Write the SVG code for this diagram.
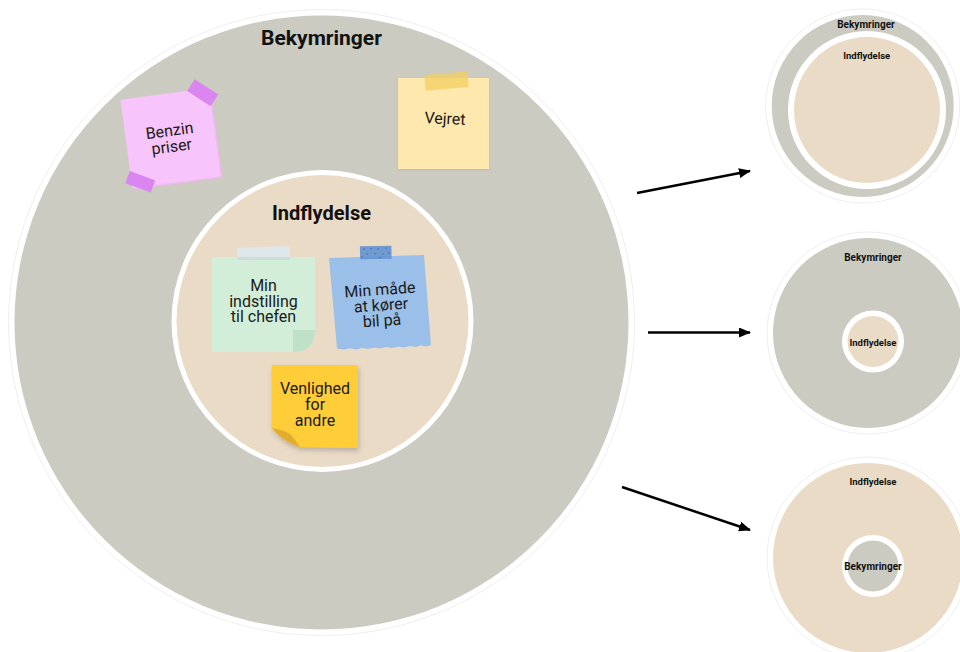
<svg xmlns="http://www.w3.org/2000/svg" width="960" height="652" viewBox="0 0 960 652">
  <defs>
    <style>
      .title { font-family: Roboto, "Liberation Sans", sans-serif; font-weight: 700; fill: #111; text-anchor: middle; }
      .note { font-family: Roboto, "Liberation Sans", sans-serif; font-size: 16px; fill: #1a1a1a; text-anchor: middle; }
      .grey { fill: #CBCBC1; }
      .tan { fill: #EADBC6; }
      .halo { fill: #ffffff; stroke: #efefef; stroke-width: 1; }
      .conn { stroke: #000; stroke-width: 2.5; fill: none; }
    </style>
    <marker id="arrow" markerUnits="userSpaceOnUse" markerWidth="12" markerHeight="10" refX="11" refY="5" orient="auto">
      <path d="M0,0 L12,5 L0,10 Z" fill="#000"/>
    </marker>
    <filter id="shadow" x="-20%" y="-20%" width="150%" height="150%">
      <feDropShadow dx="1" dy="3" stdDeviation="2.5" flood-color="#5a5a5a" flood-opacity="0.35"/>
    </filter>
    <filter id="softshadow" x="-20%" y="-20%" width="150%" height="150%">
      <feDropShadow dx="0" dy="1" stdDeviation="1" flood-color="#777" flood-opacity="0.2"/>
    </filter>
  </defs>

  <rect width="960" height="652" fill="#ffffff"/>

  <!-- Main diagram -->
  <g id="node-bekymringer">
    <circle class="halo" cx="321.5" cy="322.5" r="313"/>
    <circle class="grey" cx="321.5" cy="322.5" r="307"/>
    <text class="title" x="321.5" y="45" font-size="21">Bekymringer</text>
  </g>

  <g id="node-indflydelse">
    <circle fill="#ffffff" cx="322.5" cy="321" r="151"/>
    <circle class="tan" cx="322.5" cy="321" r="146"/>
    <text class="title" x="321.5" y="220" font-size="20">Indflydelse</text>
  </g>

  <g id="note-benzin" transform="translate(170.5,138) rotate(-7.7)">
    <rect x="-43" y="-43" width="89" height="89" fill="#F2B8F6"/>
    <rect x="-44.5" y="-44.5" width="89" height="89" fill="#F7C5FB"/>
    <text class="note" x="0" y="-2">Benzin<tspan x="0" dy="16">priser</tspan></text>
  </g>
  <rect x="-14" y="-7" width="28" height="14" fill="#D982F0" opacity="0.95" transform="translate(202.7,92.7) rotate(33)"/>
  <rect x="-13.5" y="-6.5" width="27" height="13" fill="#D982F0" opacity="0.95" transform="translate(140.3,181.7) rotate(20)"/>

  <g id="note-vejret">
    <rect x="398" y="78" width="91" height="91" fill="#FFE8AD" filter="url(#softshadow)"/>
    <rect x="-21.5" y="-8" width="43" height="16" fill="#F3CF62" opacity="0.75" transform="translate(446.5,81) rotate(-5)"/>
    <text class="note" x="445" y="124" transform="rotate(3 445 119)">Vejret</text>
  </g>

  <g id="note-chefen">
    <path d="M212,257 H315 V330 Q315,352 293,352 H212 Z" fill="#D2EED8"/>
    <path d="M293,330 H315 Q315,352 293,352 Z" fill="#BFE2C6"/>
    <rect x="-26.5" y="-6.5" width="53" height="13" fill="#DDE7EC" transform="translate(263.5,253.5) rotate(-2)"/>
    <rect x="237" y="257" width="53" height="3" fill="#C5DCCB" opacity="0.7"/>
    <text class="note" x="263.5" y="291">Min<tspan x="263.5" dy="15.5">indstilling</tspan><tspan x="263.5" dy="15.5">til chefen</tspan></text>
  </g>

  <g id="note-bil">
    <polygon points="329,258 424,255 431,345 426,346.5 421,345.3 416,347 410,346 404,347.6 398,346.4 392,348 386,347 380,348.6 374,347.4 368,349 362,348 356,349.5 350,348.3 344,349.6 337,348.5" fill="#9ABFE8"/>
    <rect x="360" y="246" width="31.5" height="13" fill="#6393D2" opacity="0.9" transform="rotate(-1 376 252)"/>
    <g fill="#3E6DB0">
      <circle cx="364" cy="249" r="0.8"/><circle cx="371" cy="248.5" r="0.8"/><circle cx="378" cy="249" r="0.8"/><circle cx="386" cy="248" r="0.8"/>
      <circle cx="367" cy="254" r="0.8"/><circle cx="375" cy="253.5" r="0.8"/><circle cx="383" cy="254" r="0.8"/><circle cx="389" cy="253" r="0.8"/>
      <circle cx="362" cy="257" r="0.8"/><circle cx="380" cy="257.5" r="0.8"/>
    </g>
    <text class="note" x="381" y="295" transform="rotate(-4 381 306)">Min måde<tspan x="381" dy="15.5">at kører</tspan><tspan x="381" dy="15.5">bil på</tspan></text>
  </g>

  <g id="note-venlighed">
    <path d="M272,365 H358 V448 L300,447 Q283,442 272,428 Z" fill="#FFCD38" filter="url(#shadow)"/>
    <path d="M272,428 Q284,430 290,434 Q296,440 300,447 Q283,442 272,428 Z" fill="#E2AD2D"/>
    <text class="note" x="315" y="394">Venlighed<tspan x="315" dy="16">for</tspan><tspan x="315" dy="15.5">andre</tspan></text>
  </g>

  <!-- Right-hand variants -->
  <g id="node-variant-1">
    <circle class="halo" cx="862.7" cy="106" r="97"/>
    <circle class="grey" cx="862.7" cy="106" r="91"/>
    <circle fill="#ffffff" cx="867" cy="110" r="79"/>
    <circle class="tan" cx="867" cy="110" r="73"/>
    <text class="title" x="866" y="27.5" font-size="10">Bekymringer</text>
    <text class="title" x="866.7" y="58.5" font-size="9.5">Indflydelse</text>
  </g>

  <g id="node-variant-2">
    <circle class="halo" cx="868" cy="333" r="101"/>
    <circle class="grey" cx="868" cy="333" r="95"/>
    <circle fill="#ffffff" cx="873" cy="341.5" r="31"/>
    <circle class="tan" cx="873" cy="341.5" r="25.5"/>
    <text class="title" x="873" y="260.5" font-size="10">Bekymringer</text>
    <text class="title" x="873" y="345.5" font-size="9.5">Indflydelse</text>
  </g>

  <g id="node-variant-3">
    <circle class="halo" cx="868" cy="558" r="101"/>
    <circle class="tan" cx="868" cy="558" r="95"/>
    <circle fill="#ffffff" cx="873" cy="566" r="31"/>
    <circle class="grey" cx="873" cy="566" r="25.5"/>
    <text class="title" x="873" y="484.5" font-size="9.5">Indflydelse</text>
    <text class="title" x="873" y="569.5" font-size="10">Bekymringer</text>
  </g>

  <!-- Connectors -->
  <g id="connectors">
    <line class="conn" x1="637" y1="193" x2="750" y2="171" marker-end="url(#arrow)"/>
    <line class="conn" x1="648" y1="332.5" x2="750" y2="332.5" marker-end="url(#arrow)"/>
    <line class="conn" x1="622" y1="487" x2="750" y2="530" marker-end="url(#arrow)"/>
  </g>
</svg>
